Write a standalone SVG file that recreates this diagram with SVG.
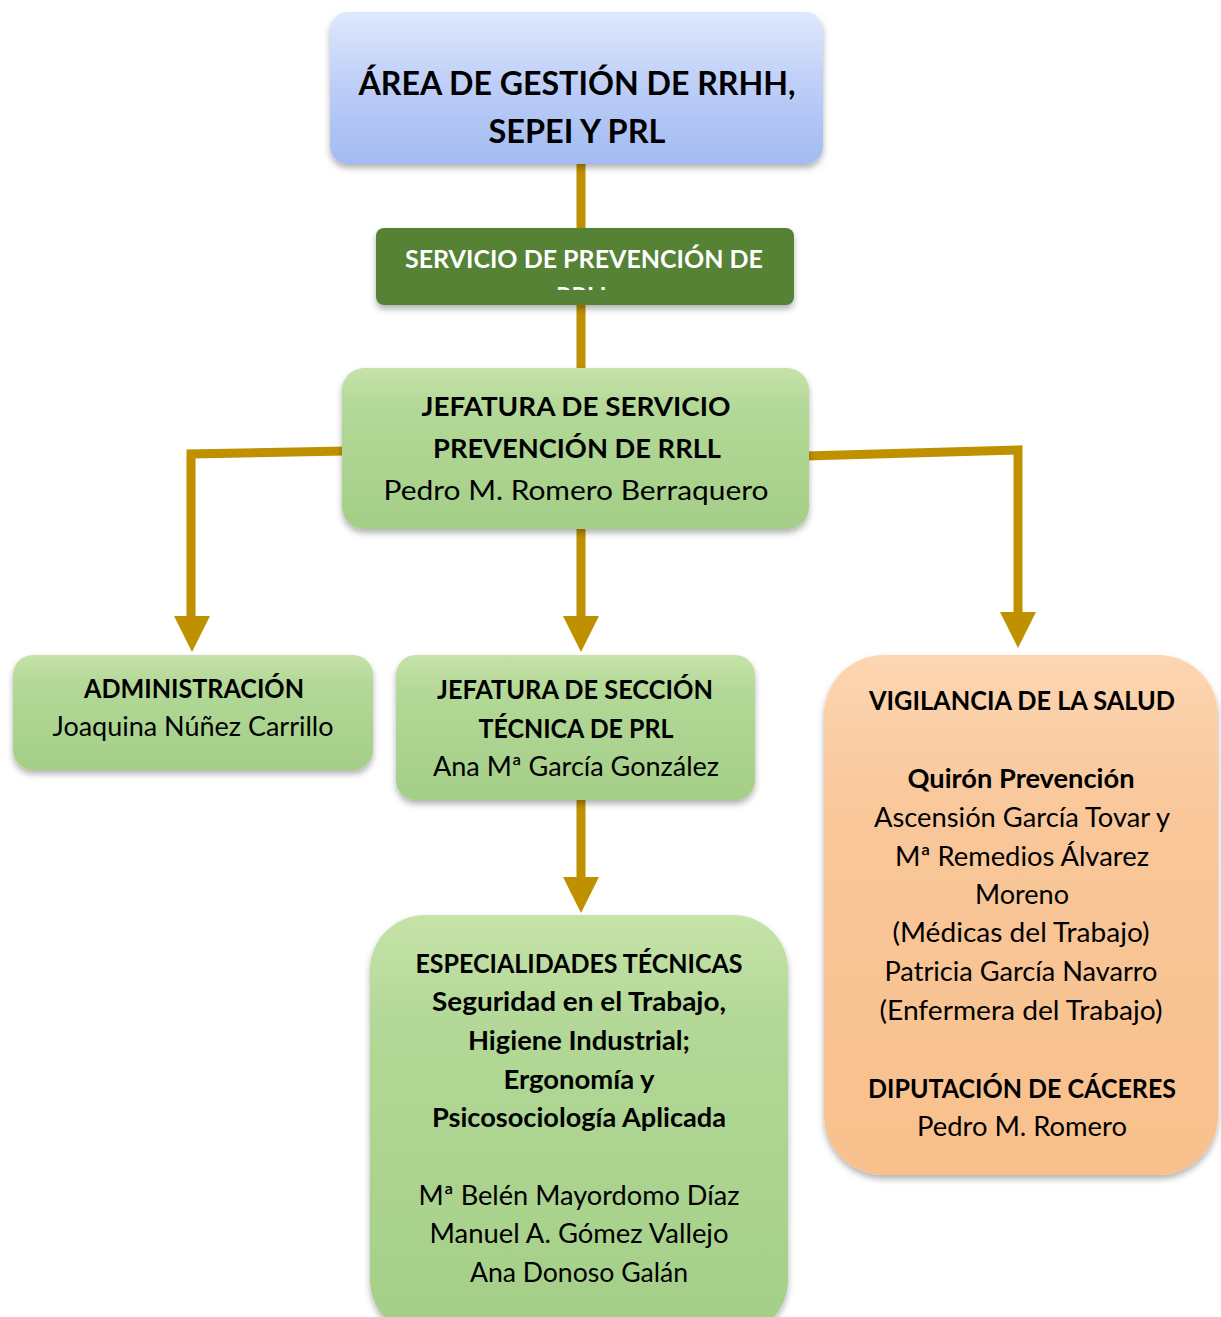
<svg xmlns="http://www.w3.org/2000/svg" width="1221" height="1317" viewBox="0 0 1221 1317">
<defs>
<linearGradient id="gBlue" x1="0" y1="0" x2="0" y2="1"><stop offset="0" stop-color="#dfe8fd"/><stop offset="0.5" stop-color="#bccdf7"/><stop offset="1" stop-color="#a3bbf2"/></linearGradient>
<linearGradient id="gGreen" x1="0" y1="0" x2="0" y2="1"><stop offset="0" stop-color="#c6e3a9"/><stop offset="0.25" stop-color="#b3d897"/><stop offset="1" stop-color="#a4cf88"/></linearGradient>
<linearGradient id="gPeach" x1="0" y1="0" x2="0" y2="1"><stop offset="0" stop-color="#fcd6b2"/><stop offset="0.3" stop-color="#f9c79a"/><stop offset="1" stop-color="#f8c08c"/></linearGradient>
<filter id="sh" x="-10%" y="-10%" width="120%" height="130%"><feDropShadow dx="0" dy="4" stdDeviation="3" flood-color="#000" flood-opacity="0.3"/></filter>
<clipPath id="clipBanner"><rect x="376" y="228" width="418" height="62"/></clipPath>
<marker id="arr" viewBox="0 0 10 10" refX="10" refY="5" markerWidth="4" markerHeight="4" orient="auto" markerUnits="strokeWidth"><path d="M0,0 L10,5 L0,10 Z" fill="#bf9000"/></marker>
</defs>
<style>
text{font-family:Lato,"Liberation Sans",sans-serif;fill:#000;text-anchor:middle;font-size:26px}
.b{font-weight:bold}
.big{font-size:32px;font-weight:bold}
.wt{fill:#fff;font-weight:bold;font-size:24px}
.conn{stroke:#bf9000;stroke-width:9;fill:none}
.head{fill:#bf9000}
</style>
<g id="connectors">
<line class="conn" x1="581" y1="160" x2="581" y2="232"/>
<line class="conn" x1="581" y1="300" x2="581" y2="372"/>
<polyline class="conn" points="346,451 191,454 191,618"/>
<polygon class="head" points="174,616 210,616 192,652"/>
<line class="conn" x1="581" y1="526" x2="581" y2="618"/>
<polygon class="head" points="563,616 599,616 581,652"/>
<polyline class="conn" points="805,456 1018,450 1018,614"/>
<polygon class="head" points="1000,612 1036,612 1018,648"/>
<line class="conn" x1="581" y1="796" x2="581" y2="880"/>
<polygon class="head" points="563,877 599,877 581,913"/>
</g>
<g id="area">
<rect x="330" y="12" width="493" height="152" rx="18" fill="url(#gBlue)" filter="url(#sh)"/>
<text class="big" x="577" y="95" textLength="437" lengthAdjust="spacingAndGlyphs">ÁREA DE GESTIÓN DE RRHH,</text>
<text class="big" x="577" y="143" textLength="177" lengthAdjust="spacingAndGlyphs">SEPEI Y PRL</text>
</g>
<g id="servicio">
<rect x="376" y="228" width="418" height="77" rx="8" fill="#548235" filter="url(#sh)"/>
<g clip-path="url(#clipBanner)">
<text class="wt" x="584" y="268" textLength="358" lengthAdjust="spacingAndGlyphs">SERVICIO DE PREVENCIÓN DE</text>
<text class="wt" x="584" y="305">RRLL</text>
</g>
</g>
<g id="jefatura-servicio">
<rect x="342" y="368" width="467" height="161" rx="22" fill="url(#gGreen)" filter="url(#sh)"/>
<text class="b" x="576" y="416" textLength="309" lengthAdjust="spacingAndGlyphs">JEFATURA DE SERVICIO</text>
<text class="b" x="577" y="458" textLength="288" lengthAdjust="spacingAndGlyphs">PREVENCIÓN DE RRLL</text>
<text x="576" y="500" textLength="385" lengthAdjust="spacingAndGlyphs">Pedro M. Romero Berraquero</text>
</g>
<g id="administracion">
<rect x="13" y="655" width="360" height="115" rx="20" fill="url(#gGreen)" filter="url(#sh)"/>
<text class="b" x="194" y="698" textLength="220" lengthAdjust="spacingAndGlyphs">ADMINISTRACIÓN</text>
<text x="193" y="736" textLength="281" lengthAdjust="spacingAndGlyphs">Joaquina Núñez Carrillo</text>
</g>
<g id="jefatura-seccion">
<rect x="396" y="655" width="359" height="145" rx="20" fill="url(#gGreen)" filter="url(#sh)"/>
<text class="b" x="575" y="699" textLength="276" lengthAdjust="spacingAndGlyphs">JEFATURA DE SECCIÓN</text>
<text class="b" x="576" y="738" textLength="195" lengthAdjust="spacingAndGlyphs">TÉCNICA DE PRL</text>
<text x="576" y="776" textLength="286" lengthAdjust="spacingAndGlyphs">Ana Mª García González</text>
</g>
<g id="especialidades">
<rect x="370" y="915" width="418" height="420" rx="55" fill="url(#gGreen)" filter="url(#sh)"/>
<text class="b" x="579" y="973" textLength="327" lengthAdjust="spacingAndGlyphs">ESPECIALIDADES TÉCNICAS</text>
<text class="b" x="579" y="1011" textLength="294" lengthAdjust="spacingAndGlyphs">Seguridad en el Trabajo,</text>
<text class="b" x="579" y="1050" textLength="222" lengthAdjust="spacingAndGlyphs">Higiene Industrial;</text>
<text class="b" x="579" y="1089" textLength="151" lengthAdjust="spacingAndGlyphs">Ergonomía y</text>
<text class="b" x="579" y="1127" textLength="294" lengthAdjust="spacingAndGlyphs">Psicosociología Aplicada</text>
<text x="579" y="1205" textLength="321" lengthAdjust="spacingAndGlyphs">Mª Belén Mayordomo Díaz</text>
<text x="579" y="1243" textLength="299" lengthAdjust="spacingAndGlyphs">Manuel A. Gómez Vallejo</text>
<text x="579" y="1282" textLength="218" lengthAdjust="spacingAndGlyphs">Ana Donoso Galán</text>
</g>
<g id="vigilancia">
<rect x="824" y="655" width="394" height="520" rx="60" fill="url(#gPeach)" filter="url(#sh)"/>
<text class="b" x="1022" y="710" textLength="306" lengthAdjust="spacingAndGlyphs">VIGILANCIA DE LA SALUD</text>
<text class="b" x="1021" y="788" textLength="227" lengthAdjust="spacingAndGlyphs">Quirón Prevención</text>
<text x="1022" y="827" textLength="296" lengthAdjust="spacingAndGlyphs">Ascensión García Tovar y</text>
<text x="1022" y="866" textLength="254" lengthAdjust="spacingAndGlyphs">Mª Remedios Álvarez</text>
<text x="1022" y="904" textLength="94" lengthAdjust="spacingAndGlyphs">Moreno</text>
<text x="1021" y="942" textLength="257" lengthAdjust="spacingAndGlyphs">(Médicas del Trabajo)</text>
<text x="1021" y="981" textLength="273" lengthAdjust="spacingAndGlyphs">Patricia García Navarro</text>
<text x="1021" y="1020" textLength="283" lengthAdjust="spacingAndGlyphs">(Enfermera del Trabajo)</text>
<text class="b" x="1022" y="1098" textLength="308" lengthAdjust="spacingAndGlyphs">DIPUTACIÓN DE CÁCERES</text>
<text x="1022" y="1136" textLength="210" lengthAdjust="spacingAndGlyphs">Pedro M. Romero</text>
</g>
</svg>
